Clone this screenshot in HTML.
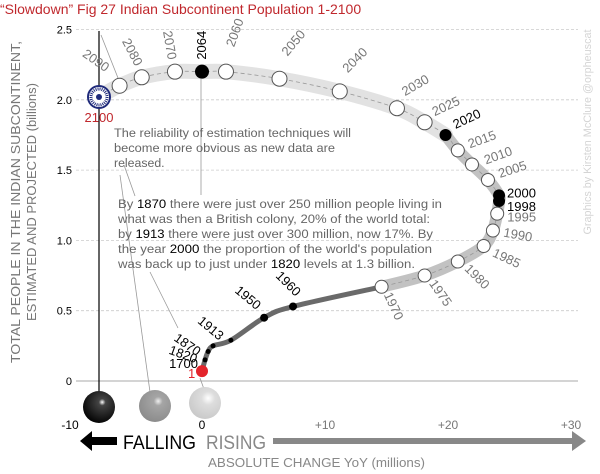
<!DOCTYPE html>
<html><head><meta charset="utf-8"><style>
html,body{margin:0;padding:0;background:#fff;}
svg{display:block;font-family:"Liberation Sans",sans-serif;}
</style></head><body>
<svg id="chart" width="600" height="474" viewBox="0 0 600 474">
<text x="0" y="14" font-size="14" fill="#c0282d">“Slowdown” Fig 27 Indian Subcontinent Population 1-2100</text>
<g id="grid"></g>
<g id="yticks"></g>
<g id="xticks"></g>
<g transform="translate(20,202) rotate(-90)" fill="#777" font-size="13">
<text x="0" y="0" text-anchor="middle" textLength="322" lengthAdjust="spacingAndGlyphs">TOTAL PEOPLE IN THE INDIAN SUBCONTINENT,</text>
<text x="0" y="16" text-anchor="middle" textLength="238" lengthAdjust="spacingAndGlyphs">ESTIMATED AND PROJECTED (billions)</text>
</g>
<text transform="translate(591,132) rotate(-90)" text-anchor="middle" font-size="11" fill="#d4d4d4" textLength="205" lengthAdjust="spacingAndGlyphs">Graphics by Kirsten McClure @orpheuscat</text>
<g id="leaders" stroke="#999" stroke-width="0.8" fill="none">
<line x1="99" y1="31" x2="99" y2="400" stroke="#000" stroke-width="1.2"/>
<line x1="101" y1="35" x2="118" y2="78"/>
<line x1="120" y1="175" x2="150" y2="392"/>
<line x1="124" y1="165" x2="135" y2="196"/>
<line x1="201" y1="75" x2="201" y2="195"/>
<line x1="150" y1="272" x2="178" y2="328"/>
<line x1="200" y1="378" x2="205" y2="392"/>
</g>
<g id="curve"></g>
<g id="chakra" transform="translate(99,97)">
<circle r="11" fill="#fff" stroke="#1f2a7a" stroke-width="2"/>
<circle r="8" fill="none" stroke="#1f2a7a" stroke-width="3" stroke-dasharray="1 1"/>
<circle r="3" fill="#1f2a7a"/>
</g>
<text x="99" y="122" text-anchor="middle" font-size="13" fill="#c0282d">2100</text>
<g font-size="12.3" fill="#666">
<text x="114" y="137" textLength="237" lengthAdjust="spacingAndGlyphs">The reliability of estimation techniques will</text>
<text x="114" y="152" textLength="221" lengthAdjust="spacingAndGlyphs">become more obvious as new data are</text>
<text x="114" y="167">released.</text>
</g>
<g font-size="12.3" fill="#666">
<text x="118" y="208" textLength="324" lengthAdjust="spacingAndGlyphs">By <tspan fill="#000">1870</tspan> there were just over 250 million people living in</text>
<text x="118" y="223" textLength="312" lengthAdjust="spacingAndGlyphs">what was then a British colony, 20% of the world total:</text>
<text x="118" y="238" textLength="315" lengthAdjust="spacingAndGlyphs">by <tspan fill="#000">1913</tspan> there were just over 300 million, now 17%. By</text>
<text x="118" y="253" textLength="314" lengthAdjust="spacingAndGlyphs">the year <tspan fill="#000">2000</tspan> the proportion of the world's population</text>
<text x="118" y="268" textLength="297" lengthAdjust="spacingAndGlyphs">was back up to just under <tspan fill="#000">1820</tspan> levels at 1.3 billion.</text>
</g>
<defs>
<radialGradient id="gb" cx="0.6" cy="0.35" r="0.7"><stop offset="0" stop-color="#fff"/><stop offset="0.15" stop-color="#444"/><stop offset="1" stop-color="#000"/></radialGradient>
<radialGradient id="gg" cx="0.6" cy="0.35" r="0.7"><stop offset="0" stop-color="#eee"/><stop offset="0.2" stop-color="#a5a5a5"/><stop offset="1" stop-color="#8a8a8a"/></radialGradient>
<radialGradient id="gl" cx="0.6" cy="0.35" r="0.7"><stop offset="0" stop-color="#fff"/><stop offset="0.3" stop-color="#ddd"/><stop offset="1" stop-color="#c8c8c8"/></radialGradient>
</defs>
<circle cx="99" cy="407" r="16" fill="url(#gb)"/>
<circle cx="155" cy="406" r="16" fill="url(#gg)"/>
<circle cx="205" cy="403" r="16" fill="url(#gl)"/>
<g>
<polygon points="80,441 92,431 92,437 117,437 117,445 92,445 92,451" fill="#000"/>
<text x="123" y="449" font-size="19" fill="#000" textLength="73" lengthAdjust="spacingAndGlyphs">FALLING</text>
</g>
<g>
<text x="206" y="449" font-size="19" fill="#888" textLength="60" lengthAdjust="spacingAndGlyphs">RISING</text>
<rect x="273" y="438" width="302" height="6" fill="#888"/>
<polygon points="572,431 586,441 572,451" fill="#888"/>
</g>
<text x="208" y="467" font-size="13" fill="#888" textLength="217" lengthAdjust="spacingAndGlyphs">ABSOLUTE CHANGE YoY (millions)</text>
</svg>
<script>
const years=["2100","2090","2080","2070","2064","2060","2050","2040","2030","2025","2020","2015","2010","2005","2000","1998","1995","1990","1985","1980","1975","1970","1960","1950","1913","1870","1820","1700","1"];
const changeValues=[-8.4,-6.7,-4.9,-2.2,0,1.95,6.3,11.2,15.85,18.1,19.8,20.8,21.95,23.25,24.15,24.15,24.0,23.65,22.9,20.8,18.1,14.6,7.4,5.05,2.35,0.9,0.5,0.25,0];
const populationValues=[2.02,2.10,2.16,2.20,2.20,2.20,2.15,2.06,1.94,1.84,1.75,1.64,1.54,1.43,1.32,1.28,1.19,1.07,0.96,0.85,0.75,0.67,0.53,0.45,0.29,0.25,0.21,0.15,0.07];
const yTicks=[0,0.5,1.0,1.5,2.0,2.5];
const yTickLabels=["0","0.5","1.0","1.5","2.0","2.5"];
const xTicks=[-10,0,10,20,30];
const xTickLabels=["-10","0","+10","+20","+30"];

const NS="http://www.w3.org/2000/svg";
const X=v=>202+12.3*v;
const Y=v=>381-140.6*v;
function mk(tag,attrs,parent,txt){const e=document.createElementNS(NS,tag);for(const k in attrs)e.setAttribute(k,attrs[k]);if(txt!==undefined)e.textContent=txt;parent.appendChild(e);return e;}
const grid=document.getElementById('grid'),yt=document.getElementById('yticks'),xt=document.getElementById('xticks'),cv=document.getElementById('curve');
yTicks.forEach((t,i)=>{
  const l=mk('line',{x1:76,x2:578,y1:Y(t),y2:Y(t),stroke:t===0?'#bbb':'#ccc','stroke-width':t===0?1.2:0.8,'stroke-dasharray':t===0?'':'3 2'},grid);
  
  
  const tx=mk('text',{x:72,y:Y(t)+4,'text-anchor':'end','font-size':11,fill:'#000'},yt,yTickLabels[i]);
  
  
});
xTicks.forEach((t,i)=>{
  const tx=mk('text',{x:t===-10?70:X(t),y:429,'text-anchor':'middle','font-size':12,fill:t<=0?'#000':'#777'},xt,xTickLabels[i]);
  
  
});
const pts=years.map((y,i)=>[X(changeValues[i]),Y(populationValues[i])]);
function path(a,b){let s=[];for(let i=a;i<=b;i++)s.push(pts[i]);
  let d='M'+s[0][0]+','+s[0][1];
  for(let i=1;i<s.length;i++){const p0=s[Math.max(0,i-2)],p1=s[i-1],p2=s[i],p3=s[Math.min(s.length-1,i+1)];
    const c1=[p1[0]+(p2[0]-p0[0])/6,p1[1]+(p2[1]-p0[1])/6],c2=[p2[0]-(p3[0]-p1[0])/6,p2[1]-(p3[1]-p1[1])/6];
    d+=' C'+c1+' '+c2+' '+p2;}
  return d;}
const iOf=y=>years.indexOf(y);
let p=mk('path',{d:path(0,iOf("2020")),stroke:'#e2e2e2','stroke-width':15,fill:'none','stroke-linecap':'round'},cv);

p=mk('path',{d:path(iOf("2020"),iOf("1970")),stroke:'#c2c2c2','stroke-width':12,fill:'none','stroke-linecap':'round'},cv);

p=mk('path',{d:path(iOf("1970"),iOf("1")),stroke:'#6a6a6a','stroke-width':5,fill:'none','stroke-linecap':'round'},cv);

p=mk('path',{d:path(0,iOf("1970")),stroke:'#999','stroke-width':0.8,fill:'none','stroke-dasharray':'4 3'},cv);

const blackYears=["2064","2020","2000","1998"];
const smallDots=["1960","1950","1913","1870","1820","1700"];
const labelLayout={"2090":[-38,-30,35],"2080":[-20,-36,62],"2070":[-12,-40,80],"2064":[4,-12,-90],"2060":[8,-24,-70],"2050":[8,-22,-50],"2040":[8,-18,-45],"2030":[8,-12,-30],"2025":[10,-6,-25],"2020":[10,-6,-25],"2015":[12,-2,-20],"2010":[14,0,-20],"2005":[12,-2,-18],"2000":[8,2,0],"1998":[8,10,0],"1995":[10,8,0],"1990":[10,6,10],"1985":[8,10,25],"1980":[6,8,45],"1975":[4,8,55],"1970":[2,8,65],"1960":[-18,-30,45],"1950":[-30,-26,40],"1913":[-34,-18,40],"1870":[-40,-6,35],"1820":[-40,2,20],"1700":[-36,8,0],"1":[-14,7,0]};
years.forEach((y,i)=>{
  const [cx,cy]=pts[i];
  if(y==="2100")return;
  let c;
  if(y==="1") c=mk('circle',{cx,cy,r:6,fill:'#e3242b'},cv);
  else if(smallDots.includes(y)) c=mk('circle',{cx,cy,r:y==="1960"||y==="1950"?4:2.5,fill:'#000'},cv);
  else if(blackYears.includes(y)) c=mk('circle',{cx,cy,r:y==="2064"?7:6,fill:'#000'},cv);
  else c=mk('circle',{cx,cy,r:i<iOf("2020")?7.5:6.5,fill:'#fff',stroke:'#555','stroke-width':1},cv);
  
  
  const L=labelLayout[y];
  const dark=blackYears.includes(y)||smallDots.includes(y);
  const t=mk('text',{transform:'translate('+(cx+L[0])+','+(cy+L[1])+') rotate('+L[2]+')','font-size':13,fill:y==="1"?'#e3242b':(dark?'#000':'#777'),'text-anchor':'start'},cv,y);
  
  
});
</script>
</body></html>
